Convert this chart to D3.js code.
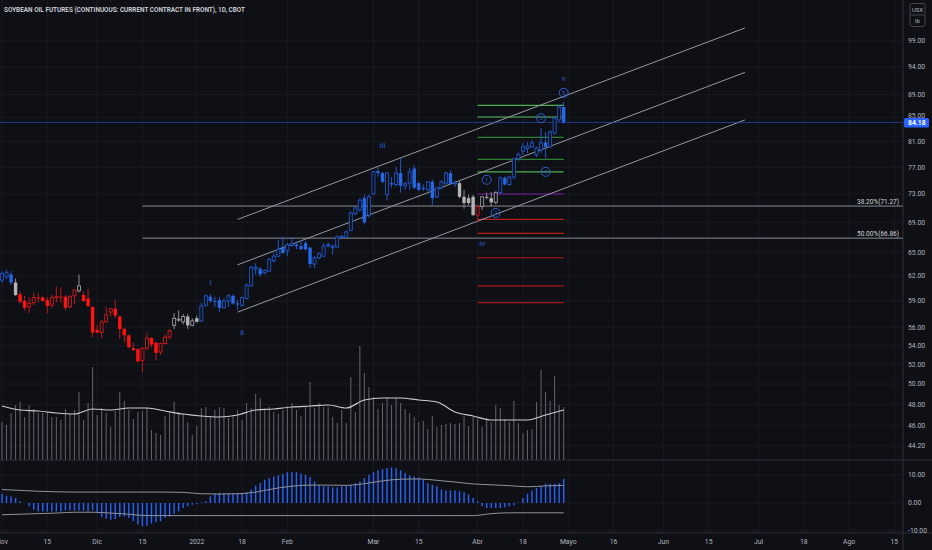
<!DOCTYPE html>
<html>
<head>
<meta charset="utf-8">
<script src="https://cdn.jsdelivr.net/npm/d3@7"></script>
<style>
  body { margin: 0; background: #0f1015; }
  svg { display: block; }
  text { font-family: "Liberation Sans Narrow", "Roboto", sans-serif; }
</style>
</head>
<body>
<svg id="chart"></svg>
<script>
// ---- data ----
const firstDay = "2021-11-01"
const lastDay = "2022-08-19"
const holidays = ["2021-11-25","2021-12-24","2022-01-17","2022-02-21","2022-04-15","2022-05-30","2022-06-20","2022-07-04"]

const tickDates = ["2021-11-01","2021-11-15","2021-12-01","2021-12-15","2022-01-03","2022-01-18","2022-02-01","2022-03-01","2022-03-15","2022-04-01","2022-04-18","2022-05-02","2022-05-16","2022-06-01","2022-06-15","2022-07-01","2022-07-18","2022-08-01","2022-08-15"]
const tickText = ["Nov","15","Dic","15","2022","18","Feb","Mar","15","Abr","18","Mayo","16","Jun","15","Jul","18","Ago","15"]

const priceTicks = [99,94,89,85,81,77,73,69,65,62,59,56,54,52,50,48,46,44.2]
const oscTicks = [10,0,-10]

// daily candles from 2021-11-01, one per trading day
const opens = [61.5,61.9,62.2,61.2,59.8,59.0,58.3,58.8,59.4,59.4, 59.1,58.5,59.4,59.5,59.5,58.3,59.6,60.2,59.7,59.3,
  58.3,55.7,55.4,56.6,57.7,58.1,57.2,55.8,55.1,53.7, 53.6,52.4,53.7,54.8,54.3,53.3,54.2,54.9,56.2,56.8,
  56.6,57.2,56.2,57.0,56.7,58.5,59.5,59.0,59.1,58.2, 59.0,59.6,58.7,58.5,59.3,60.8,62.9,62.9,62.4,62.6,
  63.9,64.5,65.7,65.2,65.9,66.0,65.8,66.2,65.6,63.5, 64.3,64.5,65.9,65.6,65.7,67.0,67.0,67.9,70.2,70.7,
  72.4,70.0,73.0,76.4,76.1,72.9,74.6,74.4,76.1,74.2, 74.6,76.8,74.6,73.9,73.6,74.8,72.6,73.9,74.6,76.1,
  74.5,74.6,72.6,72.4,72.6,70.0,71.2,72.6,72.4,71.8, 73.2,75.4,74.4,75.5,78.3,79.5,79.9,80.2,78.9,79.7,
  80.9,80.2,82.4,84.6,86.8]
const highs = [62.6,62.8,62.6,61.7,60.1,59.6,59.4,60.0,59.9,59.6, 59.4,59.7,60.7,60.6,59.7,59.7,60.4,62.2,60.1,60.4,
  58.4,56.2,56.8,58.3,58.2,59.1,57.3,55.9,55.2,54.3, 53.7,53.8,55.4,54.9,54.4,54.3,55.2,55.8,57.6,57.9,
  57.5,57.5,57.0,57.3,58.8,59.8,59.8,59.5,59.5,59.3, 59.8,59.8,59.1,59.5,61.1,63.3,63.6,63.1,62.8,64.3,
  64.9,66.6,67.0,66.2,67.0,66.4,66.6,66.5,65.7,64.5, 65.0,66.2,66.3,66.0,67.3,67.3,67.9,70.5,71.2,72.4,
  72.9,72.9,76.4,77.0,76.3,76.3,75.5,77.0,78.4,74.8, 76.9,77.3,74.8,74.4,74.9,75.1,74.1,75.0,76.3,76.5,
  75.0,74.9,73.6,72.9,72.9,71.4,72.7,73.2,73.3,73.4, 75.6,75.6,75.7,78.4,79.3,80.8,81.0,81.3,80.2,83.2,
  82.6,82.8,85.1,87.2,87.7]
const lows = [61.2,61.6,60.9,59.6,58.7,57.9,57.6,58.5,58.8,58.9, 57.6,58.2,58.8,58.8,57.9,58.2,58.6,60.0,58.9,58.3,
  54.9,55.3,54.8,56.5,57.2,57.0,54.7,54.3,53.7,53.4, 52.2,51.2,53.5,53.8,52.4,53.0,54.1,54.7,55.8,56.6,
  56.3,55.8,56.1,56.5,56.6,58.3,58.8,58.3,57.7,58.1, 58.3,58.6,57.9,58.3,59.2,60.7,62.2,61.9,62.2,62.5,
  63.7,64.4,64.8,64.5,65.7,65.4,65.3,65.2,63.0,63.0, 64.1,64.4,65.6,64.7,65.6,66.9,66.9,67.8,70.0,70.5,
  68.7,69.6,72.9,75.6,74.6,72.1,73.9,74.1,73.2,73.6, 73.6,73.7,73.4,73.4,73.4,71.4,72.4,73.7,74.4,74.3,
  74.0,72.4,70.9,71.4,69.9,69.0,70.7,72.2,71.2,71.5, 73.0,74.3,74.2,75.2,77.9,78.9,79.2,80.0,78.6,79.2,
  78.4,80.0,82.2,84.3,84.0]
const closes = [62.3,62.4,61.2,59.7,58.9,58.2,58.7,59.4,59.3,59.0, 58.4,59.4,59.5,59.4,58.2,59.5,60.3,60.8,59.0,58.4,
  55.4,55.4,56.6,57.4,58.1,57.3,55.8,55.1,53.8,53.5, 52.3,53.7,54.8,54.1,53.2,54.2,54.9,55.6,57.0,56.9,
  57.2,56.2,56.7,56.6,58.4,59.6,59.0,58.9,58.2,59.0, 59.6,58.7,58.6,59.4,60.9,63.1,63.1,62.2,62.7,64.1,
  64.5,65.4,64.9,66.0,66.1,65.8,65.4,65.4,63.5,64.3, 64.8,65.8,66.0,65.8,67.0,67.1,67.7,70.3,71.0,72.1,
  69.0,72.6,76.3,76.1,74.8,76.1,74.4,76.1,74.2,74.5, 76.3,73.9,73.6,73.8,74.8,72.4,73.9,74.8,76.1,74.5,
  74.7,72.6,71.7,71.7,70.0,71.2,72.6,72.5,71.8,73.2, 75.4,74.4,75.5,78.3,79.0,80.2,80.3,80.8,80.0,80.8,
  80.2,82.6,84.9,86.8,84.18]
// candle colouring of the trend study: b = blue, g = grey, r = red
const trend = ("bbbg" + "rrrrrrrrrrrrr" + "g" + "rrrrrrrrrrrrrrrrrrrr" + "gggggg" +
  "bbbbbbbbbbbbbbbbbbbbbbbbbbbbbbbbbbbbbbbbbbbbbbbbbbbbbbbbb" + "gggg" + "r" + "gggg" + "bbbbbbbbbbbbbbb").split("")

// volume, thousands of contracts
const volume = [38,35,47,55,58,43,55,51,47,47, 48,43,43,40,51,46,50,68,40,57,
  93,45,52,47,33,49,68,59,50,41, 48,49,52,30,27,25,44,48,58,48,
  46,38,25,34,52,53,43,50,53,52, 42,45,50,40,57,52,66,62,50,53,
  48,46,50,54,57,50,44,54,78,52, 57,53,53,43,37,50,37,83,48,114,
  87,73,63,51,57,63,55,62,57,51, 47,43,38,39,31,44,33,35,36,37,
  36,37,44,34,43,41,33,42,38,55, 52,41,38,59,37,27,30,31,58,90,
  68,59,84,55,53]
// volume average, read every 4th bar
const volAvg = [54,50,49,47,46,51,50,52,52,49,46,44,43,45,50,51,53,54,55,52,60,62,62,60,58,48,44,40,40,40,45,50]

// lower oscillator: histogram and its two grey lines (lines read every 4th bar)
const oscHist = [3.3,2.6,2.4,1.8,0.6,0.0,-1.2,-2.4,-3.0,-3.0, -3.0,-3.0,-3.0,-3.0,-2.7,-2.7,-2.7,-2.7,-2.7,-3.0,
  -2.6,-3.3,-5.0,-5.6,-6.0,-5.7,-5.0,-4.8,-5.4,-6.5, -7.7,-8.3,-8.1,-7.4,-6.9,-6.5,-5.4,-4.8,-3.8,-3.0,
  -1.8,-1.2,-0.6,-0.4,0.2,0.6,2.4,3.3,3.6,3.6, 3.6,3.6,3.6,3.6,3.8,4.8,6.2,7.1,8.3,8.9,
  9.5,9.9,10.4,11.0,11.2,11.0,10.5,10.1,9.3,7.7, 6.5,6.0,6.0,5.6,5.6,6.0,6.2,6.5,7.1,7.7,
  8.9,10.1,11.0,11.7,12.1,12.5,12.7,12.5,11.7,10.7, 9.9,9.5,9.2,8.3,7.1,6.5,6.0,4.8,4.5,4.5,
  4.5,4.2,3.8,3.0,1.8,0.6,-1.2,-1.8,-1.8,-1.8, -1.8,-1.5,-1.2,-0.8,0.1,1.8,3.3,4.5,5.4,6.2,
  6.9,6.9,6.9,7.1,8.6]
const oscUpper = [4.8,4.5,4.2,4.0,3.9,3.9,3.9,3.9,3.9,3.9,3.8,3.3,3.2,3.3,3.9,5.1,6.0,6.4,6.4,6.3,6.9,7.9,8.5,8.6,8.1,7.5,6.8,6.5,6.2,5.8,6.1,6.3]
const oscLower = [-4.2,-4.0,-3.8,-3.6,-3.3,-3.3,-3.6,-4.0,-4.5,-4.5,-4.5,-4.5,-4.5,-4.5,-4.5,-4.5,-4.5,-4.5,-4.5,-4.5,-4.5,-4.5,-4.5,-4.5,-4.5,-4.5,-4.5,-3.8,-3.5,-3.5,-3.5,-3.5]

// drawings
const channelFrom = "2022-01-14"
const channelTo = "2022-06-28"
const channelStart = [69.4, 63.4, 57.7]
const channelEnd = [101.6, 93.0, 84.6]

const retraceFrom = "2021-12-15"
const retraceLevels = [71.27, 66.86]
const retraceText = ["38.20%(71.27)", "50.00%(66.86)"]

const targetFrom = "2022-04-01"
const targetTo = "2022-04-29"
const targetLevels = [87.1, 85.1, 81.7, 78.2, 76.3, 73.0, 69.4, 67.5, 64.3, 60.8, 58.8]
const targetColors = ["#4caf50","#5cb860","#2e7d32","#2e7d32","#4caf50","#7b1fa2","#b71c1c","#b71c1c","#b71c1c","#a8171c","#a8171c"]

const waveText = ["i","ii","iii","iv","v"]
const waveDates = ["2022-01-06","2022-01-18","2022-03-03","2022-04-04","2022-04-29"]
const wavePrices = [61.2, 55.4, 80.5, 66.2, 92.0]
const subText = ["1","2","3","4","5"]
const subDates = ["2022-04-05","2022-04-07","2022-04-22","2022-04-25","2022-04-29"]
const subPrices = [75.1, 70.3, 84.9, 76.3, 89.3]

const lastPrice = 84.18

// ---- setup ----
const W = 932, H = 550
const plotR = 903, mainB = 460, oscB = 533
const bg = "#0f1015"
const axisCol = "#b2b5be", gridCol = "#191b22", waveCol = "#2a5fd8"

// trading calendar: weekdays minus exchange holidays
const days = []
for (let d = new Date(firstDay + "T00:00:00Z"); d <= new Date(lastDay + "T00:00:00Z"); d.setUTCDate(d.getUTCDate() + 1)) {
    const s = d.toISOString().slice(0, 10)
    const wd = d.getUTCDay()
    if (wd !== 0 && wd !== 6 && !holidays.includes(s)) days.push(s)
}
const di = s => days.indexOf(s)

const x = d3.scaleLinear().domain([0, closes.length - 1]).range([2, 563.7])
const y = d3.scaleLog().domain([44.2, 99]).range([446, 41])
const yv = d3.scaleLinear().domain([0, d3.max(volume)]).range([mainB, 346])
const yo = d3.scaleLinear().domain([-10, 10]).range([531, 475])

const svg = d3.select("#chart").attr("width", W).attr("height", H)
svg.append("rect").attr("width", W).attr("height", H).attr("fill", bg)

const defs = svg.append("defs")
defs.append("clipPath").attr("id", "mainClip").append("rect").attr("width", plotR).attr("height", mainB)
defs.append("clipPath").attr("id", "oscClip").append("rect").attr("y", mainB).attr("width", plotR).attr("height", oscB - mainB)
defs.append("clipPath").attr("id", "oscAxisClip").append("rect").attr("x", plotR).attr("y", mainB).attr("width", W - plotR).attr("height", oscB - mainB)

// grid
const grid = svg.append("g")
grid.selectAll(".vg").data(tickDates).enter().append("line")
    .attr("x1", d => x(di(d))).attr("x2", d => x(di(d)))
    .attr("y1", 0).attr("y2", oscB)
    .attr("stroke", gridCol)
grid.selectAll(".hg").data(priceTicks).enter().append("line")
    .attr("x1", 0).attr("x2", plotR)
    .attr("y1", d => y(d)).attr("y2", d => y(d))
    .attr("stroke", gridCol)
grid.selectAll(".og").data(oscTicks).enter().append("line")
    .attr("x1", 0).attr("x2", plotR)
    .attr("y1", d => yo(d)).attr("y2", d => yo(d))
    .attr("stroke", gridCol)

const main = svg.append("g").attr("clip-path", "url(#mainClip)")

// volume overlay
main.selectAll(".vol").data(volume).enter().append("line")
    .attr("x1", (d, i) => x(i)).attr("x2", (d, i) => x(i))
    .attr("y1", mainB).attr("y2", d => yv(d))
    .attr("stroke", "#62656d").attr("stroke-width", 1)
main.append("path")
    .datum(volAvg)
    .attr("d", d3.line().x((d, i) => x(i * 4)).y(d => yv(d)).curve(d3.curveMonotoneX))
    .attr("fill", "none").attr("stroke", "#c9cbd1").attr("stroke-width", 1.2)

// long retracement lines
retraceLevels.forEach((lv, k) => {
    main.append("line")
        .attr("x1", x(di(retraceFrom))).attr("x2", plotR)
        .attr("y1", y(lv)).attr("y2", y(lv))
        .attr("stroke", "#8a8d96").attr("stroke-width", 1)
    main.append("text")
        .attr("x", 899).attr("y", y(lv) - 2)
        .attr("text-anchor", "end").attr("font-size", 6.5).attr("fill", "#d1d4dc")
        .text(retraceText[k])
})

// short target lines
main.selectAll(".tg").data(targetLevels).enter().append("line")
    .attr("x1", x(di(targetFrom))).attr("x2", x(di(targetTo)))
    .attr("y1", d => y(d)).attr("y2", d => y(d))
    .attr("stroke", (d, i) => targetColors[i]).attr("stroke-width", 1.2)

// channel
channelStart.forEach((p, k) => {
    main.append("line")
        .attr("x1", x(di(channelFrom))).attr("y1", y(p))
        .attr("x2", x(di(channelTo))).attr("y2", y(channelEnd[k]))
        .attr("stroke", "#9598a1").attr("stroke-width", 1)
})

// last price line
main.append("line")
    .attr("x1", 0).attr("x2", plotR)
    .attr("y1", y(lastPrice)).attr("y2", y(lastPrice))
    .attr("stroke", "#2455c8").attr("stroke-opacity", 0.75).attr("stroke-width", 0.8)

// candles
const palette = {
    r: { fill: "#ff1212", edge: "#d11a1a", wick: "#b71c1c" },
    g: { fill: "#b4b4b4", edge: "#9d9d9d", wick: "#8c8c8c" },
    b: { fill: "#2468e6", edge: "#2157c8", wick: "#2157c8" }
}
const candles = main.append("g")
closes.forEach((c, i) => {
    const o = opens[i], col = palette[trend[i]], up = c >= o
    const top = y(Math.max(o, c)), bot = y(Math.min(o, c))
    candles.append("line")
        .attr("x1", x(i)).attr("x2", x(i))
        .attr("y1", y(highs[i])).attr("y2", y(lows[i]))
        .attr("stroke", col.wick).attr("stroke-width", 1)
    if (up) {
        candles.append("rect")
            .attr("x", x(i) - 1.5).attr("y", top)
            .attr("width", 3).attr("height", Math.max(1, bot - top))
            .attr("fill", bg).attr("stroke", col.edge).attr("stroke-width", 0.9)
    } else {
        candles.append("rect")
            .attr("x", x(i) - 1.7).attr("y", top)
            .attr("width", 3.4).attr("height", Math.max(1, bot - top))
            .attr("fill", col.fill)
    }
})

// wave labels
main.selectAll(".wv").data(waveText).enter().append("text")
    .attr("x", (d, i) => x(di(waveDates[i])))
    .attr("y", (d, i) => y(wavePrices[i]))
    .attr("dy", "0.35em").attr("text-anchor", "middle")
    .attr("font-size", 8).attr("fill", waveCol)
    .text(d => d)
const subs = main.selectAll(".sb").data(subText).enter().append("g")
    .attr("transform", (d, i) => `translate(${x(di(subDates[i]))},${y(subPrices[i])})`)
subs.append("circle").attr("r", 4.5).attr("fill", "none").attr("stroke", waveCol).attr("stroke-width", 1)
subs.append("text").attr("dy", "0.35em").attr("text-anchor", "middle")
    .attr("font-size", 5.8).attr("fill", waveCol).text(d => d)

// oscillator pane
const osc = svg.append("g").attr("clip-path", "url(#oscClip)")
osc.selectAll(".hb").data(oscHist).enter().append("line")
    .attr("x1", (d, i) => x(i)).attr("x2", (d, i) => x(i))
    .attr("y1", yo(0)).attr("y2", d => yo(d))
    .attr("stroke", "#2962ff").attr("stroke-width", 1.4)
const bandLine = d3.line().x((d, i) => x(i * 4)).y(d => yo(d)).curve(d3.curveMonotoneX)
osc.append("path").datum(oscUpper).attr("d", bandLine)
    .attr("fill", "none").attr("stroke", "#8f929a").attr("stroke-width", 1)
osc.append("path").datum(oscLower).attr("d", bandLine)
    .attr("fill", "none").attr("stroke", "#8f929a").attr("stroke-width", 1)

// separators
svg.append("line").attr("x1", 0).attr("x2", W).attr("y1", mainB).attr("y2", mainB).attr("stroke", "#2a2e39")
svg.append("line").attr("x1", 0).attr("x2", W).attr("y1", oscB).attr("y2", oscB).attr("stroke", "#2a2e39")
svg.append("line").attr("x1", plotR).attr("x2", plotR).attr("y1", 0).attr("y2", H).attr("stroke", "#2a2e39")

// price axis (the tag covers the label next to the last price, as in the original)
svg.selectAll(".pt").data(priceTicks.filter(d => Math.abs(y(d) - y(lastPrice)) > 9)).enter().append("text")
    .attr("x", 908).attr("y", d => y(d)).attr("dy", "0.35em")
    .attr("font-size", 6.8).attr("fill", axisCol)
    .text(d => d.toFixed(2))
svg.selectAll(".ptc").data(priceTicks.filter(d => Math.abs(y(d) - y(lastPrice)) <= 9)).enter().append("text")
    .attr("x", 908).attr("y", d => y(d) - 2).attr("dy", "0.35em")
    .attr("font-size", 6.8).attr("fill", axisCol)
    .text(d => d.toFixed(2))
svg.append("g").attr("clip-path", "url(#oscAxisClip)")
    .selectAll(".ot").data(oscTicks).enter().append("text")
    .attr("x", 908).attr("y", d => yo(d)).attr("dy", "0.35em")
    .attr("font-size", 6.8).attr("fill", axisCol)
    .text(d => d.toFixed(2))

// last price tag
svg.append("rect").attr("x", plotR + 1).attr("y", y(lastPrice) - 4.5)
    .attr("width", 25).attr("height", 9.5).attr("rx", 1.5).attr("fill", "#2962ff")
svg.append("text").attr("x", 908).attr("y", y(lastPrice) + 0.3).attr("dy", "0.35em")
    .attr("font-size", 6.8).attr("fill", "#ffffff").attr("font-weight", "bold")
    .text(lastPrice.toFixed(2))

// unit badge
const unit = svg.append("g")
unit.append("rect").attr("x", 910).attr("y", 3.5).attr("width", 15).attr("height", 23).attr("rx", 2)
    .attr("fill", "none").attr("stroke", "#50535e").attr("stroke-width", 0.8)
unit.append("line").attr("x1", 911).attr("x2", 924).attr("y1", 15).attr("y2", 15).attr("stroke", "#50535e").attr("stroke-width", 0.8)
unit.append("text").attr("x", 917.5).attr("y", 12).attr("text-anchor", "middle").attr("font-size", 6).attr("fill", axisCol).text("USX")
unit.append("text").attr("x", 917.5).attr("y", 23).attr("text-anchor", "middle").attr("font-size", 6).attr("fill", axisCol).text("lb")

// time axis
svg.selectAll(".tt").data(tickDates).enter().append("text")
    .attr("x", d => x(di(d))).attr("y", 544)
    .attr("text-anchor", "middle").attr("font-size", 6.8).attr("fill", axisCol)
    .text((d, i) => tickText[i])

// title
svg.append("text").attr("x", 4).attr("y", 12)
    .attr("font-size", 7.2).attr("font-weight", 600).attr("fill", "#d1d4dc")
    .attr("textLength", 241).attr("lengthAdjust", "spacingAndGlyphs")
    .text("SOYBEAN OIL FUTURES (CONTINUOUS: CURRENT CONTRACT IN FRONT), 1D, CBOT")
</script>
</body>
</html>
